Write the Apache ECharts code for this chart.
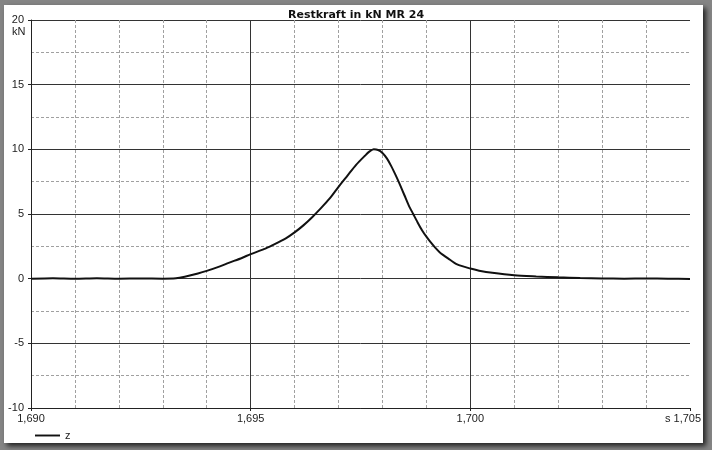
<!DOCTYPE html>
<html>
<head>
<meta charset="utf-8">
<script src="https://cdn.jsdelivr.net/npm/echarts@6/dist/echarts.min.js"></script>
<style>
  html, body { margin:0; padding:0; width:712px; height:450px; background:#858585; overflow:hidden; }
  #panel { position:absolute; left:4px; top:5px; width:699px; height:438px; background:#fff;
           box-shadow: 3px 3px 5px rgba(0,0,0,0.75); }
  #chart { position:absolute; left:0; top:0; width:712px; height:450px; }
</style>
</head>
<body>
<div id="panel"></div>
<div id="chart"></div>
<script>
// Data (time in s, force in kN)
const titleText = 'Restkraft in kN MR 24';
const yUnit = 'kN';
const xUnit = 's';
const seriesName = 'z';
const timeS = [1.6900, 1.6905, 1.6910, 1.6915, 1.6920, 1.6925, 1.6930, 1.6933, 1.6935, 1.6938,
               1.6940, 1.6943, 1.6945, 1.6948, 1.6950, 1.6953, 1.6955, 1.6958, 1.6960, 1.6962,
               1.6964, 1.6966, 1.6968, 1.6970, 1.6972, 1.6974, 1.6976, 1.6977, 1.6978, 1.6979,
               1.6980, 1.6981, 1.6982, 1.6983, 1.6984, 1.6985, 1.6986, 1.6987, 1.6988, 1.6989,
               1.6990, 1.6991, 1.6992, 1.6993, 1.6995, 1.6997, 1.7000,
               1.7002, 1.7005, 1.7010, 1.7015, 1.7020, 1.7025, 1.7030, 1.7035, 1.7040, 1.7045, 1.7050];
const forceZ = [0.00, 0.04, 0.00, 0.04, 0.00, 0.02, 0.00, 0.03, 0.15, 0.40,
                0.60, 0.95, 1.22, 1.60, 1.90, 2.28, 2.60, 3.12, 3.58, 4.12,
                4.75, 5.45, 6.20, 7.10, 7.95, 8.80, 9.50, 9.82, 10.00, 9.95,
                9.72, 9.30, 8.70, 8.00, 7.25, 6.45, 5.65, 5.00, 4.35, 3.75,
                3.25, 2.80, 2.40, 2.05, 1.55, 1.10, 0.78,
                0.62, 0.45, 0.26, 0.17, 0.10, 0.05, 0.02, 0.00, 0.02, 0.00, -0.03];
const xTicks = { min: 1.690, max: 1.705, step: 0.005 };
const yTicks = { min: -10, max: 20, step: 5 };

const fontFam = '"Liberation Sans", Arial, sans-serif';
const chart = echarts.init(document.getElementById('chart'), null, { renderer: 'canvas' });
const fmtX = v => v.toFixed(3).replace('.', ',');

chart.setOption({
  animation: false,
  backgroundColor: 'transparent',
  title: {
    text: titleText, left: 'center', top: 5,
    textStyle: { fontFamily: '"DejaVu Sans", sans-serif', fontSize: 11, fontWeight: 'bold', color: '#111' }
  },
  grid: { left: 31, top: 20, right: 22, bottom: 42, containLabel: false },
  legend: {
    left: 30, top: 425, itemWidth: 25, itemHeight: 12, itemGap: 5,
    icon: 'path://M0,0 L26,0 L26,2 L0,2 Z',
    textStyle: { fontFamily: fontFam, fontSize: 11, color: '#222' },
    data: [seriesName]
  },
  xAxis: {
    type: 'value', min: xTicks.min, max: xTicks.max, interval: xTicks.step,
    axisLine: { show: true, onZero: false, lineStyle: { color: '#222', width: 1 } },
    axisTick: { show: true, length: 3, lineStyle: { color: '#222' } },
    axisLabel: {
      margin: 5, fontFamily: fontFam, fontSize: 11, color: '#222',
      formatter: v => Math.abs(v - xTicks.max) < 1e-9 ? '{last|' + xUnit + ' ' + fmtX(v) + '}' : fmtX(v),
      rich: { last: { fontFamily: fontFam, fontSize: 11, color: '#222', padding: [0, 14, 0, 0] } }
    },
    splitLine: { show: true, lineStyle: { color: ['#333', '#333', '#333', 'rgba(0,0,0,0)'], width: 1 } },
    minorTick: { show: false, splitNumber: 5 },
    minorSplitLine: { show: true, lineStyle: { color: '#a0a0a0', width: 1, type: [3, 2] } }
  },
  yAxis: {
    type: 'value', min: yTicks.min, max: yTicks.max, interval: yTicks.step,
    axisLine: { show: true, lineStyle: { color: '#222', width: 1 } },
    axisTick: { show: true, length: 3, lineStyle: { color: '#222' } },
    axisLabel: { margin: 7, fontFamily: fontFam, fontSize: 11, color: '#222' },
    splitLine: { show: true, lineStyle: { color: '#333', width: 1 } },
    minorTick: { show: false, splitNumber: 2 },
    minorSplitLine: { show: true, lineStyle: { color: '#a0a0a0', width: 1, type: [3, 2] } }
  },
  graphic: [
    { type: 'text', left: 12, top: 26, style: { text: yUnit, font: '11px ' + fontFam, fill: '#222' } }
  ],
  series: [{
    name: seriesName, type: 'line', showSymbol: false, symbol: 'none', smooth: 0.25,
    lineStyle: { color: '#111', width: 2 },
    itemStyle: { color: '#111' },
    data: timeS.map((t, i) => [t, forceZ[i]])
  }]
});
</script>
</body>
</html>
